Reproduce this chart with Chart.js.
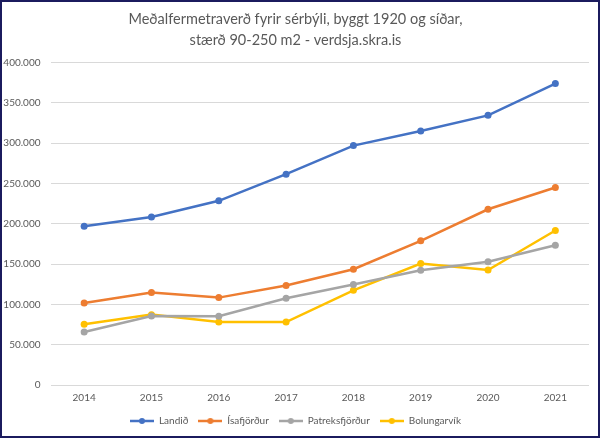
<!DOCTYPE html>
<html>
<head>
<meta charset="utf-8">
<script src="https://cdn.jsdelivr.net/npm/chart.js@4"></script>
<style>
  html, body { margin: 0; padding: 0; background: #ffffff; }
  #frame {
    width: 600px; height: 438px; box-sizing: border-box;
    border: 2px solid #1b1b5e; background: #ffffff;
  }
  canvas { display: block; }
</style>
</head>
<body>
<div id="frame"><canvas id="chart" width="596" height="434"></canvas></div>
<script>
// Gögn lesin af myndinni
const years = ['2014', '2015', '2016', '2017', '2018', '2019', '2020', '2021'];
const landid = [197000, 208500, 228500, 261500, 297000, 315000, 334500, 374000];
const isafjordur = [101700, 114700, 108400, 123400, 143600, 178800, 218000, 245000];
const patreksfjordur = [65700, 85600, 85200, 107600, 124600, 142400, 153000, 173400];
const bolungarvik = [75300, 87300, 78100, 78100, 117500, 150700, 142700, 191700];

const seriesNames = ['Landið', 'Ísafjörður', 'Patreksfjörður', 'Bolungarvík'];
const seriesColors = ['#4472C4', '#ED7D31', '#A5A5A5', '#FFC000'];
const titleLines = ['Meðalfermetraverð fyrir sérbýli, byggt 1920 og síðar,', 'stærð 90-250 m2 - verdsja.skra.is'];

const textColor = '#595959';
const fontFamily = 'Lato, "Open Sans", sans-serif';

// lítil mynd fyrir skýringu: lína með punkti
function legendIcon(color) {
    const c = document.createElement('canvas');
    c.width = 24; c.height = 8;
    const g = c.getContext('2d');
    g.strokeStyle = color;
    g.lineWidth = 2.5;
    g.beginPath();
    g.moveTo(0, 4); g.lineTo(24, 4);
    g.stroke();
    g.fillStyle = color;
    g.beginPath();
    g.arc(12, 4, 3, 0, Math.PI * 2);
    g.fill();
    return c;
}
const legendIcons = seriesColors.map(legendIcon);

function makeDataset(i, values) {
    return {
        label: seriesNames[i],
        data: values,
        borderColor: seriesColors[i],
        backgroundColor: seriesColors[i],
        pointBackgroundColor: seriesColors[i],
        pointBorderWidth: 0,
        pointRadius: 3.5,
        pointStyle: 'circle',
        borderWidth: 2.5,
        tension: 0,
        fill: false
    };
}

const ctx = document.getElementById('chart').getContext('2d');
new Chart(ctx, {
    type: 'line',
    data: {
        labels: years,
        datasets: [
            makeDataset(0, landid),
            makeDataset(1, isafjordur),
            makeDataset(2, patreksfjordur),
            makeDataset(3, bolungarvik)
        ]
    },
    options: {
        responsive: false,
        animation: false,
        layout: { padding: { left: 0, right: 9, top: 0, bottom: 0 } },
        scales: {
            x: {
                offset: true,
                grid: { display: false, drawTicks: false },
                border: { display: false },
                ticks: { color: textColor, font: { family: fontFamily, size: 10 }, padding: 7 },
                afterFit: s => { s.height = 21; }
            },
            y: {
                min: 0,
                max: 400000,
                grid: { color: '#D9D9D9', lineWidth: 1, drawTicks: false },
                border: { display: false },
                ticks: {
                    stepSize: 50000,
                    color: textColor,
                    font: { family: fontFamily, size: 10 },
                    padding: 10,
                    callback: v => v.toString().replace(/\B(?=(\d{3})+(?!\d))/g, '.')
                },
                afterFit: s => { s.width = 48.5; }
            }
        },
        plugins: {
            title: {
                display: true,
                text: titleLines,
                color: textColor,
                font: { family: fontFamily, size: 14.5, weight: 'normal', lineHeight: 1.45 },
                padding: { top: 7, bottom: 11.5 }
            },
            legend: {
                position: 'bottom',
                labels: {
                    usePointStyle: true,
                    pointStyleWidth: 24,
                    boxHeight: 8,
                    padding: 10,
                    color: textColor,
                    font: { family: fontFamily, size: 10 },
                    generateLabels: chart => {
                        const items = Chart.defaults.plugins.legend.labels.generateLabels(chart);
                        items.forEach((it, i) => { it.pointStyle = legendIcons[i]; });
                        return items;
                    }
                }
            },
            tooltip: { enabled: false }
        }
    }
});
</script>
</body>
</html>
